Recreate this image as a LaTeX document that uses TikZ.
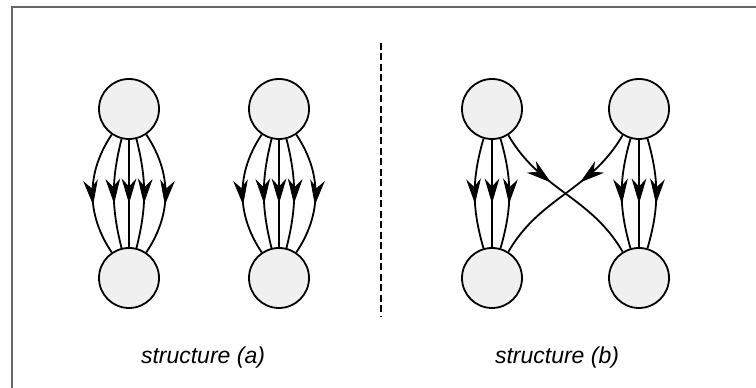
\documentclass[tikz,border=0pt]{standalone}
\usepackage{fontspec}
\setsansfont{Liberation Sans}
\usetikzlibrary{arrows.meta,decorations.markings,positioning}

\tikzset{
  vertex/.style={circle, draw, line width=1.8pt, fill=black!6, minimum size=60pt, inner sep=0pt},
  edge/.style={line width=1.8pt},
  headtip/.style={fill=black, draw=black, line width=0.8pt, line join=miter},
  midarrow/.style={decoration={markings,
      mark=at position #1 with {\filldraw[headtip] (0pt,0pt) -- (-22pt,6.5pt) -- (-15pt,0pt) -- (-22pt,-6.5pt) -- cycle;}},
      postaction={decorate}},
  divider/.style={line width=1.8pt, dash pattern=on 7pt off 3.5pt},
  frameline/.style={line width=1.5pt, black!60},
  caption/.style={font=\sffamily\itshape\fontsize{23}{27}\selectfont},
}

\begin{document}
\begin{tikzpicture}[x=1pt,y=1pt]
\useasboundingbox (0,0) rectangle (756,388);
% Frame
\coordinate (fbot) at (12,0);
\coordinate (fcorner) at (12,381);
\coordinate (fright) at (756,381);
\draw[frameline] (fbot) -- (fcorner) -- (fright);

% Structure (a)
\foreach \cx/\nm in {129/a1, 279/a2}{
    \node[vertex] (t\nm) at (\cx,279) {};
    \node[vertex] (b\nm) at (\cx,110) {};
    \foreach \ang/\bng in {-124/124, -104/104, -90/90, -76/76, -56/56}{
        \draw[edge, midarrow=0.58] (t\nm.\ang) to[out=\ang, in=\bng] (b\nm.\bng);
    }
}

% Divider
\coordinate (dtop) at (381,345);
\coordinate (dbot) at (381,71);
\draw[divider] (dtop) -- (dbot);

% Structure (b)
\node[vertex] (tb1) at (492,279) {};
\node[vertex] (bb1) at (492,110) {};
\node[vertex] (tb2) at (639,279) {};
\node[vertex] (bb2) at (639,110) {};
\foreach \nm in {b1, b2}{
    \foreach \ang/\bng in {-106/106, -90/90, -74/74}{
        \draw[edge, midarrow=0.58] (t\nm.\ang) to[out=\ang, in=\bng] (b\nm.\bng);
    }
}
\draw[edge, midarrow=0.38] (tb1.-58) to[out=-60, in=120] (bb2.122);
\draw[edge, midarrow=0.38] (tb2.-122) to[out=-120, in=60] (bb1.58);

% Labels
\node[caption] (capa) at (203,30) {structure (a)};
\node[caption] (capb) at (557,30) {structure (b)};
\end{tikzpicture}
\end{document}
